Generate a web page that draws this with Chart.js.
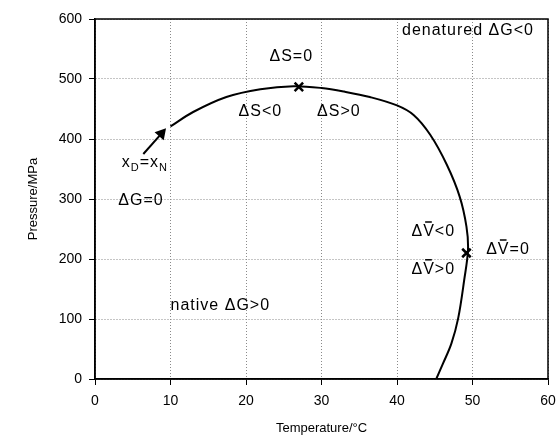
<!DOCTYPE html>
<html>
<head>
<meta charset="utf-8">
<script src="https://cdn.jsdelivr.net/npm/chart.js@4"></script>
<style>
html, body { margin: 0; padding: 0; background: #fff; }
</style>
</head>
<body>
<canvas id="chart" width="558" height="439"></canvas>
<script>
// phase boundary, temperature (°C) vs pressure (MPa)
const curveT = [10, 13, 17.4, 21.9, 26.3, 30, 33, 36.4, 40, 42.2, 44.4, 46.6, 48.3, 49.2, 49.4, 48.9, 48.1, 47.2, 46.1, 45.2];
const curveP = [421, 445, 470, 483, 488, 485, 479, 470, 456, 440, 407, 357, 304, 254, 215, 165, 101, 59, 26, 0];

// the two "x" marks (dS = 0 and dV = 0)
const markT = [27, 49.2];
const markP = [487, 210];

// arrow pointing at the start of the curve
const arrowT = [6.4, 8.8];
const arrowP = [375, 409];

const xTicks = [0, 10, 20, 30, 40, 50, 60];
const yTicks = [0, 100, 200, 300, 400, 500, 600];

// labels: "_" = next char subscript, "~" = next char with bar
const noteText = ['\u0394S=0', '\u0394S<0', '\u0394S>0', 'denatured \u0394G<0', 'x_D=x_N', '\u0394G=0',
  'native \u0394G>0', '\u0394~V<0', '\u0394~V=0', '\u0394~V>0'];
const noteT = [26.0, 21.9, 32.3, 49.4, 6.6, 6.1, 16.6, 44.8, 54.7, 44.8];
const noteP = [537, 445, 445, 580, 360, 298, 122, 245, 215, 182];

const FONT = '"Liberation Sans", Arial, sans-serif';

function drawRich(ctx, str, cx, cy) {
  const parts = [];
  for (let i = 0; i < str.length; i++) {
    const c = str[i];
    if (c === '_') { parts.push({ t: str[++i], sub: true }); }
    else if (c === '~') { parts.push({ t: str[++i], bar: true }); }
    else parts.push({ t: c });
  }
  const big = '16px ' + FONT, small = '11px ' + FONT;
  ctx.letterSpacing = '1px';
  let w = 0;
  parts.forEach(p => { ctx.font = p.sub ? small : big; p.w = ctx.measureText(p.t).width; w += p.w; });
  let x = cx - w / 2;
  ctx.textAlign = 'left';
  ctx.textBaseline = 'middle';
  parts.forEach(p => {
    ctx.font = p.sub ? small : big;
    ctx.fillText(p.t, x, p.sub ? cy + 5 : cy);
    if (p.bar) {
      ctx.beginPath();
      ctx.lineWidth = 1.5;
      ctx.moveTo(x + 2, cy - 10);
      ctx.lineTo(x + p.w - 3, cy - 10);
      ctx.stroke();
    }
    x += p.w;
  });
  ctx.letterSpacing = '0px';
}

const notes = {
  id: 'notes',
  afterDatasetsDraw(chart) {
    const { ctx, chartArea: a, scales: { x, y } } = chart;
    ctx.save();
    ctx.strokeStyle = '#000';
    ctx.lineWidth = 1.5;
    ctx.strokeRect(a.left, a.top, a.right - a.left, a.bottom - a.top);
    ctx.fillStyle = '#000';
    noteText.forEach((t, i) => drawRich(ctx, t, x.getPixelForValue(noteT[i]), y.getPixelForValue(noteP[i])));
    ctx.restore();
  }
};

new Chart(document.getElementById('chart'), {
  type: 'scatter',
  data: {
    datasets: [
      {
        data: curveT.map((t, i) => ({ x: t, y: curveP[i] })),
        showLine: true,
        borderColor: '#000',
        borderWidth: 2,
        tension: 0.35,
        pointRadius: 0
      },
      {
        data: markT.map((t, i) => ({ x: t, y: markP[i] })),
        pointStyle: 'crossRot',
        pointRadius: 6,
        borderColor: '#000',
        borderWidth: 2.5
      },
      {
        data: arrowT.map((t, i) => ({ x: t, y: arrowP[i] })),
        showLine: true,
        borderColor: '#000',
        backgroundColor: '#000',
        borderWidth: 2,
        pointStyle: 'triangle',
        pointRotation: 41,
        pointRadius: [0, 5]
      }
    ]
  },
  options: {
    responsive: false,
    animation: false,
    layout: { padding: { top: 19, right: 10, left: 0, bottom: 0 } },
    plugins: { legend: { display: false }, tooltip: { enabled: false } },
    scales: {
      x: {
        type: 'linear',
        min: 0, max: 60,
        afterFit: s => { s.height = 60; s.paddingLeft = 0; s.paddingRight = 0; },
        afterBuildTicks: s => { s.ticks = xTicks.map(v => ({ value: v })); },
        grid: { color: '#8a8a8a', tickColor: '#000', tickLength: 6, lineWidth: 1 },
        border: { display: true, color: '#000', width: 1.5, dash: [1, 2] },
        ticks: { color: '#000', font: { family: FONT, size: 14 }, padding: 8, maxRotation: 0 },
        title: { display: true, text: 'Temperature/\u00B0C', color: '#000', font: { family: FONT, size: 13 }, padding: { top: 0, bottom: 3 } }
      },
      y: {
        type: 'linear',
        min: 0, max: 600,
        afterFit: s => { s.width = 95; s.paddingTop = 0; s.paddingBottom = 0; },
        afterBuildTicks: s => { s.ticks = yTicks.map(v => ({ value: v })); },
        grid: { color: '#8a8a8a', tickColor: '#000', tickLength: 6, lineWidth: 1 },
        border: { display: true, color: '#000', width: 1.5, dash: [1, 2] },
        ticks: { color: '#000', font: { family: FONT, size: 14 }, padding: 7 },
        title: { display: true, text: 'Pressure/MPa', color: '#000', font: { family: FONT, size: 13 }, padding: { top: 26, bottom: 0 } }
      }
    }
  },
  plugins: [notes]
});
</script>
</body>
</html>
